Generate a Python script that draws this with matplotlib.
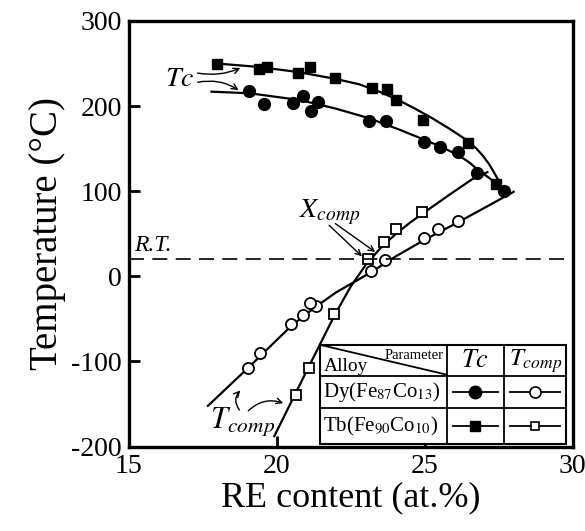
import matplotlib
matplotlib.use("Agg")
import matplotlib.pyplot as plt
from matplotlib.lines import Line2D
from matplotlib.patches import Rectangle

plt.rcParams['font.family'] = ['Liberation Serif', 'DejaVu Serif']
plt.rcParams['mathtext.fontset'] = 'stix'
plt.rcParams['axes.unicode_minus'] = False

# Curie temperature, Tb(Fe90Co10) (filled squares)
tb_tc_x = [17.99, 19.39, 19.67, 20.72, 21.13, 21.98, 23.21, 23.74, 24.03, 24.93, 26.45, 27.40]
tb_tc_y = [250, 244, 245.5, 238.5, 246, 232.5, 221, 219.6, 207, 183.5, 157, 109]
# Curie temperature, Dy(Fe87Co13) (filled circles)
dy_tc_x = [19.08, 19.56, 20.55, 20.89, 21.17, 21.41, 23.13, 23.69, 24.99, 25.52, 26.11, 26.75, 27.68]
dy_tc_y = [218, 203, 204, 212, 194.5, 204.7, 182, 182.7, 157.6, 152, 146, 121.5, 100.4]
# compensation temperature, Dy(Fe87Co13) (open circles)
dy_tcomp_x = [26.11, 25.44, 24.99, 23.66, 23.18, 21.34, 21.11, 20.89, 20.48, 19.43, 19.03]
dy_tcomp_y = [65, 56, 45.5, 19, 6, -35, -31, -46, -56.5, -90, -108]
# compensation temperature, Tb(Fe90Co10) (open squares)
tb_tcomp_x = [24.90, 24.03, 23.64, 23.08, 21.95, 21.08, 20.66]
tb_tcomp_y = [75.6, 56, 40.4, 20.8, -44.7, -108, -140]

# hand-drawn guide curves
tb_tc_fit_x = [17.99, 19.39, 20.72, 21.98, 22.8, 23.5, 24.17, 24.7, 25.29, 25.9,
               26.42, 26.75, 26.98, 27.17, 27.31, 27.47, 27.6, 27.72]
tb_tc_fit_y = [250, 246, 240, 232, 225.5, 216.5, 206, 196.5, 185, 172,
               160, 150, 141, 132, 124, 114, 105, 96]
dy_tc_fit_x = [17.76, 19.1, 20.8, 22.0, 23.1, 24.17, 24.95, 25.5, 26.1, 26.5, 26.8, 27.2, 27.5, 27.7]
dy_tc_fit_y = [217, 215, 207, 197, 186, 172, 161, 153, 143, 134, 125, 115, 107, 100]
dy_tcomp_fit_x = [17.65, 19.05, 20.5, 21.35, 22.0, 23.15, 24.0, 25.0, 26.1, 27.1, 28.04]
dy_tcomp_fit_y = [-153, -107, -58, -35, -19, 4, 23, 43, 63, 82, 100]
tb_tcomp_fit_x = [19.9, 21.0, 21.95, 22.5, 23.0, 23.5, 24.03, 24.5, 24.9, 25.8, 26.6, 27.15]
tb_tcomp_fit_y = [-189, -112, -46, -12, 13, 33, 50, 63, 73, 95, 114, 123]

room_temp = 20
x_ticks = [15, 20, 25, 30]
y_ticks = [-200, -100, 0, 100, 200, 300]

fig = plt.figure(figsize=(5.85, 5.31), dpi=100)
ax = fig.add_axes([0.22, 0.159, 0.759, 0.8015])

lw = 1.6
for fx, fy in [(tb_tc_fit_x, tb_tc_fit_y), (dy_tc_fit_x, dy_tc_fit_y),
               (dy_tcomp_fit_x, dy_tcomp_fit_y), (tb_tcomp_fit_x, tb_tcomp_fit_y)]:
    ax.plot(fx, fy, color='black', lw=lw, solid_capstyle='butt', solid_joinstyle='round')

ax.plot(tb_tc_x, tb_tc_y, 's', color='black', ms=7.5)
ax.plot(dy_tc_x, dy_tc_y, 'o', color='black', ms=8.5)
ax.plot(dy_tcomp_x, dy_tcomp_y, 'o', mfc='white', mec='black', mew=1.3, ms=8)
ax.plot(tb_tcomp_x, tb_tcomp_y, 's', mfc='white', mec='black', mew=1.3, ms=7)

ax.axhline(room_temp, color='black', lw=1.2, dashes=(9, 5))

ax.set_xlim(15, 30)
ax.set_ylim(-200, 300)
ax.set_xticks(x_ticks)
ax.set_yticks(y_ticks)
ax.tick_params(direction='in', length=8, width=2, labelsize=20, pad=5)
for s in ax.spines.values():
    s.set_linewidth(2.4)

ax.set_xlabel('RE content (at.%)', fontsize=26, labelpad=2)
ax.set_ylabel('Temperature (°C)', fontsize=28, labelpad=4)

# annotations
ax.text(15.2, 24, 'R.T.', fontsize=17, style='italic', ha='left', va='bottom')
ax.text(16.72, 231, r'$Tc$', fontsize=20, ha='center', va='center')
ax.annotate('', xy=(18.77, 244.7), xytext=(17.33, 238.8),
            arrowprops=dict(arrowstyle='->', lw=1, connectionstyle='arc3,rad=0.15', shrinkA=0, shrinkB=0))
ax.annotate('', xy=(18.71, 218.8), xytext=(17.33, 228),
            arrowprops=dict(arrowstyle='->', lw=1, connectionstyle='arc3,rad=-0.2', shrinkA=0, shrinkB=0))
ax.text(21.8, 75, r'$X_{comp}$', fontsize=20, ha='center', va='center')
ax.annotate('', xy=(22.88, 23.5), xytext=(21.77, 60),
            arrowprops=dict(arrowstyle='->', lw=1, shrinkA=0, shrinkB=0))
ax.annotate('', xy=(23.33, 28.6), xytext=(21.98, 62),
            arrowprops=dict(arrowstyle='->', lw=1, shrinkA=0, shrinkB=0))
ax.text(18.85, -170, r'$\mathbf{\mathit{T}}_{\mathit{comp}}$', fontsize=22, ha='center', va='center')
ax.annotate('', xy=(18.77, -134), xytext=(18.74, -157),
            arrowprops=dict(arrowstyle='->', lw=1, connectionstyle='arc3,rad=-0.4', shrinkA=0, shrinkB=0))
ax.annotate('', xy=(20.22, -149), xytext=(19.04, -158),
            arrowprops=dict(arrowstyle='->', lw=1, connectionstyle='arc3,rad=-0.3', shrinkA=0, shrinkB=0))

# table legend (axes fractions)
tx0, tx1, tx2, tx3 = 0.431, 0.716, 0.845, 0.986
ty0, ty1, ty2, ty3 = 0.005, 0.091, 0.165, 0.239
tr = ax.transAxes
ax.add_patch(Rectangle((tx0, ty0), tx3 - tx0, ty3 - ty0, transform=tr,
                       facecolor='white', edgecolor='black', lw=1.5, zorder=5))
for xv in (tx1, tx2):
    ax.add_line(Line2D([xv, xv], [ty0, ty3], transform=tr, color='black', lw=1.3, zorder=6))
for yv in (ty1, ty2):
    ax.add_line(Line2D([tx0, tx3], [yv, yv], transform=tr, color='black', lw=1.3, zorder=6))
ax.add_line(Line2D([tx0, tx1], [ty3, ty2 + 0.004], transform=tr, color='black', lw=1.3, zorder=6))
ax.text(tx1 - 0.006, ty3 - 0.01, 'Parameter', transform=tr, fontsize=10.5, ha='right', va='top', zorder=7)
ax.text(tx0 + 0.008, ty2 + 0.004, 'Alloy', transform=tr, fontsize=14, ha='left', va='bottom', zorder=7)
ax.text((tx1 + tx2) / 2, (ty2 + ty3) / 2, r'$Tc$', transform=tr, fontsize=19, ha='center', va='center', zorder=7)
ax.text((tx2 + tx3) / 2, (ty2 + ty3) / 2, r'$T_{comp}$', transform=tr, fontsize=18, ha='center', va='center', zorder=7)
ax.text(tx0 + 0.006, (ty1 + ty2) / 2, r'Dy(Fe$_{87}$Co$_{13}$)', transform=tr, fontsize=15, ha='left', va='center', zorder=7)
ax.text(tx0 + 0.006, (ty0 + ty1) / 2, r'Tb(Fe$_{90}$Co$_{10}$)', transform=tr, fontsize=15, ha='left', va='center', zorder=7)

samples = [
    (tx1, tx2, (ty1 + ty2) / 2, dict(marker='o', ms=9, mfc='black', mec='black')),
    (tx2, tx3, (ty1 + ty2) / 2, dict(marker='o', ms=8, mfc='white', mec='black', mew=1.2)),
    (tx1, tx2, (ty0 + ty1) / 2, dict(marker='s', ms=7.5, mfc='black', mec='black')),
    (tx2, tx3, (ty0 + ty1) / 2, dict(marker='s', ms=6, mfc='white', mec='black', mew=1.2)),
]
for a, b, yv, st in samples:
    pad = 0.014
    ax.add_line(Line2D([a + pad, b - pad], [yv, yv], transform=tr, color='black', lw=1.3, zorder=7))
    ax.add_line(Line2D([(a + b) / 2], [yv], transform=tr, color='black', zorder=8, **st))

fig.savefig('out.png', dpi=100)
